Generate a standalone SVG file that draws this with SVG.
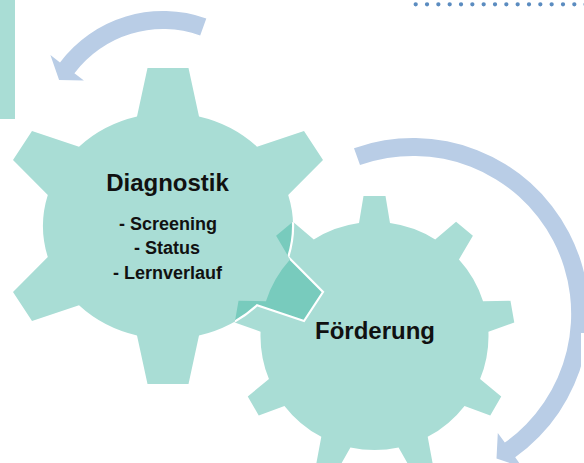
<svg xmlns="http://www.w3.org/2000/svg" xmlns:xlink="http://www.w3.org/1999/xlink" width="584" height="463" viewBox="0 0 584 463">
  <style>
    .gear { fill: #a9ddd5; }
    .overlap { fill: #78cbbd; }
    .arrow { fill: #b9cde6; }
    .title { font-family: "Liberation Sans", Arial, sans-serif; font-weight: bold; font-size: 24px; fill: #111111; text-anchor: middle; }
    .item { font-family: "Liberation Sans", Arial, sans-serif; font-weight: bold; font-size: 18px; fill: #111111; text-anchor: middle; }
  </style>
  <defs>
    <path id="g1p" d="M137,116.5 L147.5,68 L188.5,68 L199,116.5 A125,113 0 0 1 257,146.7 L304,131 L323,160 L288.2,195 A125,113 0 0 1 288.2,257 L323,292 L304,321 L257,305.3 A125,113 0 0 1 199,335.5 L188.5,384 L147.5,384 L137,335.5 A125,113 0 0 1 79,305.3 L32,321 L13,292 L47.8,257 A125,113 0 0 1 47.8,195 L13,160 L32,131 L79,146.7 A125,113 0 0 1 137,116.5 Z"/>
    <path id="g2p" transform="translate(374.5,336)" d="M-15.49,-112.94 L-11,-140 L11,-140 L15.49,-112.94 A114,114 0 0 1 60.73,-96.48 L81.56,-114.32 L98.4,-100.2 L84.46,-76.56 A114,114 0 0 1 108.54,-34.87 L135.96,-35.14 L139.78,-13.48 L113.92,-4.35 A114,114 0 0 1 105.55,43.06 L126.74,60.48 L115.76,79.51 L90.06,69.89 A114,114 0 0 1 53.19,100.83 L58.22,127.79 L37.55,135.32 L24.08,111.44 A114,114 0 0 1 -24.08,111.44 L-37.55,135.32 L-58.22,127.79 L-53.19,100.83 A114,114 0 0 1 -90.06,69.89 L-115.76,79.51 L-126.74,60.48 L-105.55,43.06 A114,114 0 0 1 -113.92,-4.35 L-139.78,-13.48 L-135.96,-35.14 L-108.54,-34.87 A114,114 0 0 1 -84.46,-76.56 L-98.4,-100.2 L-81.56,-114.32 L-60.73,-96.48 A114,114 0 0 1 -15.49,-112.94 Z"/>
    <clipPath id="clipG1"><use xlink:href="#g1p"/></clipPath>
    <clipPath id="clipG2"><use xlink:href="#g2p"/></clipPath>
  </defs>

  <rect x="0" y="0" width="584" height="463" fill="#ffffff"/>

  <!-- decoration -->
  <rect x="0" y="0" width="15" height="119" class="gear"/>
  <line x1="415.7" y1="4.3" x2="590" y2="4.3" stroke="#5b8cc0" stroke-width="4.3" stroke-linecap="round" stroke-dasharray="0 11.33"/>

  <g id="connectors">
    <path id="arrow-top" class="arrow" d="M206.3,18.5 A129,129 0 0 0 60,62.4 L50.4,55.1 L59.1,80 L83.9,80.4 L74.4,73.2 A111,111 0 0 1 200.2,35.4 Z"/>
    <path id="arrow-right" class="arrow" d="M354,148.2 A176,176 0 0 1 515.2,457.3 L522.2,467.1 L496.5,458.6 L497.8,432.9 L504.8,442.6 A158,158 0 0 0 360,165.1 Z"/>
  </g>
  <rect x="581" y="333" width="3" height="130" fill="#ffffff"/>

  <g id="gear-foerderung">
    <use xlink:href="#g2p" class="gear"/>
  </g>

  <g id="gear-diagnostik">
    <use xlink:href="#g1p" class="gear"/>
    <g clip-path="url(#clipG1)">
      <use xlink:href="#g2p" class="overlap"/>
    </g>
    <g clip-path="url(#clipG2)">
      <use xlink:href="#g1p" fill="none" stroke="#ffffff" stroke-width="2.2" stroke-linejoin="miter"/>
    </g>
    <text class="title" x="167.5" y="191">Diagnostik</text>
    <text class="item" x="168" y="230">- Screening</text>
    <text class="item" x="167" y="254">- Status</text>
    <text class="item" x="167.5" y="278.5">- Lernverlauf</text>
  </g>

  <g id="label-foerderung">
    <text class="title" x="375" y="339">Förderung</text>
  </g>
</svg>
